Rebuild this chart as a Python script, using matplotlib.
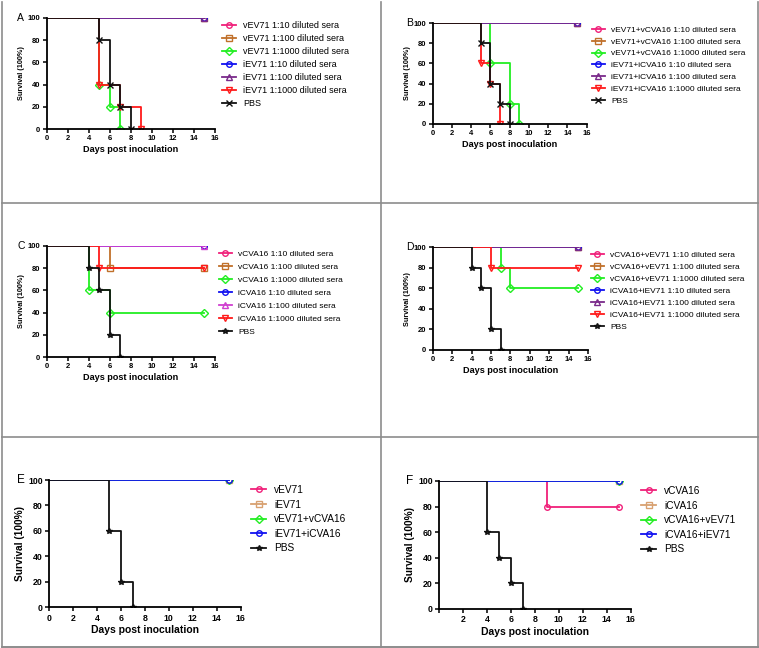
import matplotlib
matplotlib.use("Agg")
import matplotlib.pyplot as plt
from matplotlib.lines import Line2D

plt.rcParams["font.family"] = ["Liberation Sans", "DejaVu Sans"]

# Series styles (shared across panels)
PINK, BROWN, GREEN, BLUE, PURPLE, RED, BLACK = (
    "#F0207A", "#C0702A", "#22EE22", "#1010F0", "#7A2A8A", "#FF1A1A", "#111111")
MAGENTA = "#D040D0"
TAN = "#D8A070"

# ---- Panel A ----
A_labels = ["vEV71 1:10 diluted sera", "vEV71 1:100 diluted sera",
            "vEV71 1:1000 diluted sera", "iEV71 1:10 diluted sera",
            "iEV71 1:100 diluted sera", "iEV71 1:1000 diluted sera", "PBS"]
A_days = [[0, 15], [0, 15], [0, 5, 6, 7], [0, 15], [0, 15], [0, 5, 7, 9],
          [0, 5, 6, 7, 8]]
A_surv = [[100, 100], [100, 100], [100, 40, 20, 0], [100, 100], [100, 100],
          [100, 40, 20, 0], [100, 80, 40, 20, 0]]

# ---- Panel B ----
B_labels = ["vEV71+vCVA16 1:10 diluted sera", "vEV71+vCVA16 1:100 diluted sera",
            "vEV71+vCVA16 1:1000 diluted sera", "iEV71+iCVA16 1:10 diluted sera",
            "iEV71+iCVA16 1:100 diluted sera", "iEV71+iCVA16 1:1000 diluted sera",
            "PBS"]
B_days = [[0, 15], [0, 15], [0, 6, 8, 9], [0, 15], [0, 15], [0, 5, 6, 7],
          [0, 5, 6, 7, 8]]
B_surv = [[100, 100], [100, 100], [100, 60, 20, 0], [100, 100], [100, 100],
          [100, 60, 40, 0], [100, 80, 40, 20, 0]]

# ---- Panel C ----
C_labels = ["vCVA16 1:10 diluted sera", "vCVA16 1:100 diluted sera",
            "vCVA16 1:1000 diluted sera", "iCVA16 1:10 diluted sera",
            "iCVA16 1:100 diluted sera", "iCVA16 1:1000 diluted sera", "PBS"]
C_days = [[0, 15], [0, 6, 15], [0, 4, 6, 15], [0, 15], [0, 15], [0, 5, 15],
          [0, 4, 5, 6, 7]]
C_surv = [[100, 100], [100, 80, 80], [100, 60, 40, 40], [100, 100], [100, 100],
          [100, 80, 80], [100, 80, 60, 20, 0]]

# ---- Panel D ----
D_labels = ["vCVA16+vEV71 1:10 diluted sera", "vCVA16+vEV71 1:100 diluted sera",
            "vCVA16+vEV71 1:1000 diluted sera", "iCVA16+iEV71 1:10 diluted sera",
            "iCVA16+iEV71 1:100 diluted sera", "iCVA16+iEV71 1:1000 diluted sera",
            "PBS"]
D_days = [[0, 15], [0, 15], [0, 7, 8, 15], [0, 15], [0, 15], [0, 6, 15],
          [0, 4, 5, 6, 7]]
D_surv = [[100, 100], [100, 100], [100, 80, 60, 60], [100, 100], [100, 100],
          [100, 80, 80], [100, 80, 60, 20, 0]]

# ---- Panel E ----
E_labels = ["vEV71", "iEV71", "vEV71+vCVA16", "iEV71+iCVA16", "PBS"]
E_days = [[0, 15], [0, 15], [0, 15], [0, 15], [0, 5, 6, 7]]
E_surv = [[100, 100], [100, 100], [100, 100], [100, 100], [100, 60, 20, 0]]

# ---- Panel F ----
F_labels = ["vCVA16", "iCVA16", "vCVA16+vEV71", "iCVA16+iEV71", "PBS"]
F_days = [[0, 9, 15], [0, 15], [0, 15], [0, 15], [0, 4, 5, 6, 7]]
F_surv = [[100, 80, 80], [100, 100], [100, 100], [100, 100], [100, 60, 40, 20, 0]]

sera_colors = [PINK, BROWN, GREEN, BLUE, PURPLE, RED, BLACK]
sera_markers = ["o", "s", "D", "o", "^", "v", "x"]
C_colors = [PINK, BROWN, GREEN, BLUE, MAGENTA, RED, BLACK]
C_markers = ["o", "s", "D", "o", "^", "v", "*"]
mix_colors = [PINK, TAN, GREEN, BLUE, BLACK]
mix_markers = ["o", "s", "D", "o", "*"]

W, H = 759, 648
fig = plt.figure(figsize=(W / 100, H / 100), dpi=100)


def px_rect(l, t, r, b):
    return [l / W, 1 - b / H, (r - l) / W, (b - t) / H]


def panel(rect, letter, letter_x, labels, days, surv, colors, markers, leg_xy,
          tick_fs, lab_fs, ylab_fs, leg_fs, leg_space, let_fs, hide_zero=False):
    ax = fig.add_axes(px_rect(*rect))
    for lab, d, s, c, m in zip(labels, days, surv, colors, markers):
        ax.step(d, s, where="post", color=c, lw=1.3)
        ax.plot(d[1:], s[1:], ls="none", marker=m, ms=4, mfc="none",
                mec=c, mew=1.0)
    handles = [Line2D([], [], color=c, lw=1.3, marker=m, ms=4, mfc="none",
                      mec=c, mew=1.0) for c, m in zip(colors, markers)]
    ax.legend(handles, labels, loc="upper left",
              bbox_to_anchor=(leg_xy[0] / W, 1 - leg_xy[1] / H),
              bbox_transform=fig.transFigure, frameon=False, fontsize=leg_fs,
              handlelength=1.5, handletextpad=0.8, labelspacing=leg_space,
              borderpad=0, borderaxespad=0)
    ax.set_xlim(0, 16)
    ax.set_ylim(0, 100)
    ax.set_xticks(range(0, 17, 2))
    if hide_zero:
        ax.set_xticklabels([""] + [str(v) for v in range(2, 17, 2)])
    ax.set_yticks(range(0, 101, 20))
    for sp in ["top", "right"]:
        ax.spines[sp].set_visible(False)
    for sp in ["left", "bottom"]:
        ax.spines[sp].set_linewidth(1.3)
    ax.tick_params(length=3, width=1.1, labelsize=tick_fs, pad=1.5)
    for t in ax.get_xticklabels() + ax.get_yticklabels():
        t.set_fontweight("bold")
    ax.set_xlabel("Days post inoculation", fontsize=lab_fs, fontweight="bold",
                  labelpad=2)
    ax.set_ylabel("Survival (100%)", fontsize=ylab_fs, fontweight="bold",
                  labelpad=2)
    fig.text(letter_x / W, 1 - rect[1] / H, letter, fontsize=let_fs,
             ha="left", va="center")
    return ax


panel((46.7, 18, 215, 129), "A", 17, A_labels, A_days, A_surv, sera_colors,
      sera_markers, (222, 21.5), 5.5, 6.6, 5.2, 6.5, 0.44, 7.5)
panel((432.7, 23, 586.7, 124), "B", 406, B_labels, B_days, B_surv, sera_colors,
      sera_markers, (592, 26), 5.5, 6.6, 5.2, 6.0, 0.48, 7.5)
panel((46.7, 246, 215, 357), "C", 17, C_labels, C_days, C_surv, C_colors,
      C_markers, (219, 250), 5.5, 6.6, 5.2, 6.0, 0.62, 7.5)
panel((432.7, 247.3, 588, 350), "D", 406, D_labels, D_days, D_surv, sera_colors,
      ["o", "s", "D", "o", "^", "v", "*"], (591, 251), 5.5, 6.6, 5.2, 6.0,
      0.5, 7.5)
panel((49, 480, 240.7, 607.3), "E", 17, E_labels, E_days, E_surv, mix_colors,
      mix_markers, (251, 485), 6.3, 7.5, 7.3, 7.3, 0.45, 8.5)
panel((439, 481, 630.7, 608.7), "F", 406, F_labels, F_days, F_surv,
      [PINK, TAN, GREEN, BLUE, BLACK], mix_markers, (641, 486), 6.3, 7.5, 7.3,
      7.3, 0.45, 8.5, hide_zero=True)

# gray panel frame
gray = "#8c8c8c"
for x in [1.5 / W, 381 / W, 757.5 / W]:
    fig.add_artist(Line2D([x, x], [1.5 / H, 1 - 1.5 / H], color=gray, lw=1.2))
for y in [1.5 / H, 1 - 203 / H, 1 - 437 / H, 1 - 646.5 / H]:
    fig.add_artist(Line2D([1.5 / W, 757.5 / W], [y, y], color=gray, lw=1.2))

fig.savefig("out.png", dpi=100)
